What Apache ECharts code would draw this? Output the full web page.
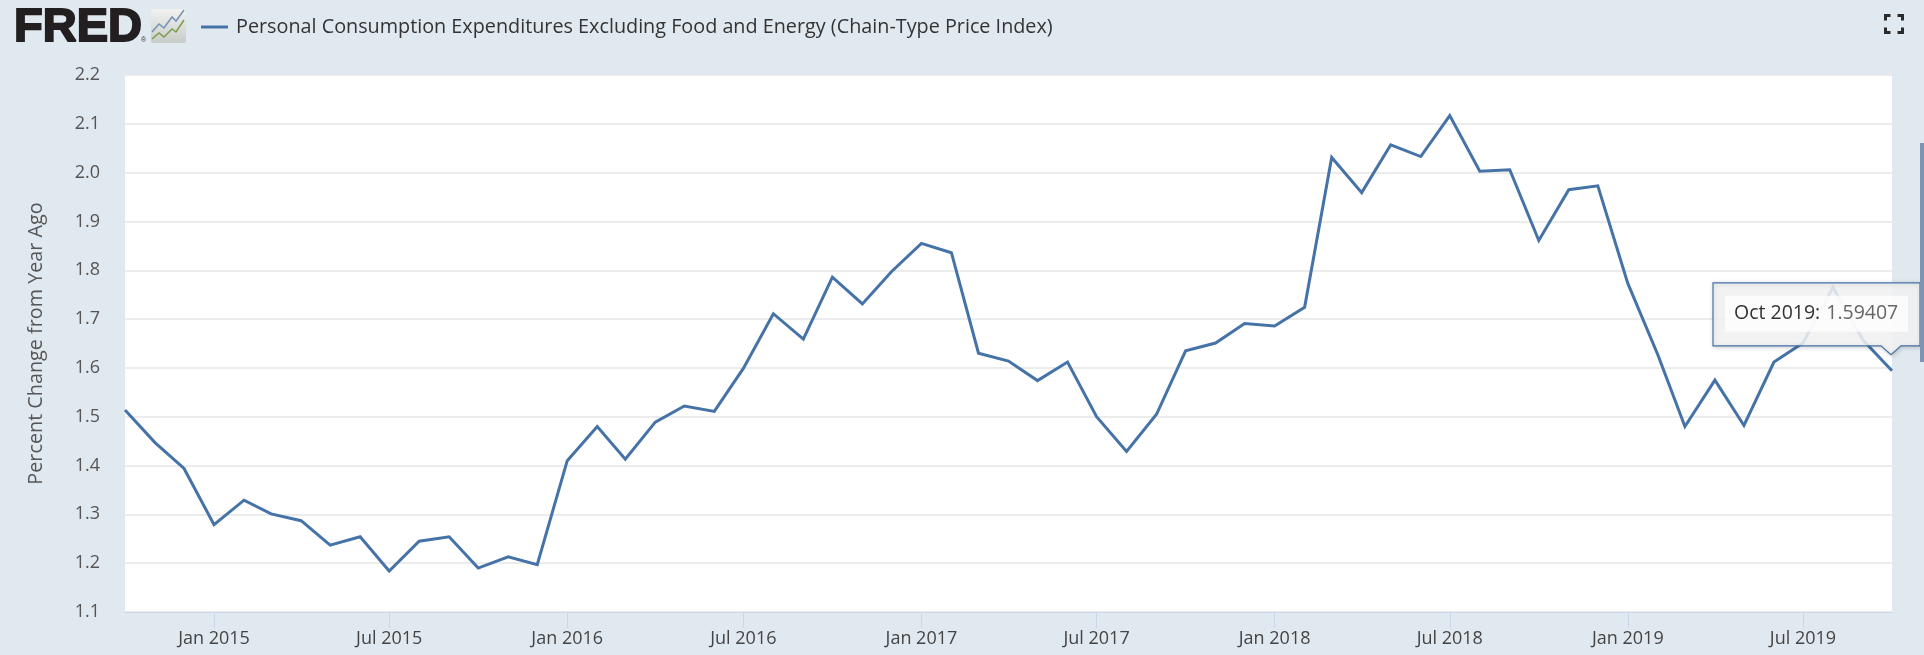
<!DOCTYPE html>
<html>
<head>
<meta charset="utf-8">
<style>html,body{margin:0;padding:0;background:#e1e9f0;overflow:hidden}#c{width:1924px;height:655px}</style>
<script src="https://cdn.jsdelivr.net/npm/echarts@6/dist/echarts.min.js"></script>
</head>
<body>
<div id="c"></div>
<script>
const seriesName = 'Personal Consumption Expenditures Excluding Food and Energy (Chain-Type Price Index)';
const yAxisTitle = 'Percent Change from Year Ago';
const months = [
 '2014-10-01','2014-11-01','2014-12-01',
 '2015-01-01','2015-02-01','2015-03-01','2015-04-01','2015-05-01','2015-06-01','2015-07-01','2015-08-01','2015-09-01','2015-10-01','2015-11-01','2015-12-01',
 '2016-01-01','2016-02-01','2016-03-01','2016-04-01','2016-05-01','2016-06-01','2016-07-01','2016-08-01','2016-09-01','2016-10-01','2016-11-01','2016-12-01',
 '2017-01-01','2017-02-01','2017-03-01','2017-04-01','2017-05-01','2017-06-01','2017-07-01','2017-08-01','2017-09-01','2017-10-01','2017-11-01','2017-12-01',
 '2018-01-01','2018-02-01','2018-03-01','2018-04-01','2018-05-01','2018-06-01','2018-07-01','2018-08-01','2018-09-01','2018-10-01','2018-11-01','2018-12-01',
 '2019-01-01','2019-02-01','2019-03-01','2019-04-01','2019-05-01','2019-06-01','2019-07-01','2019-08-01','2019-09-01','2019-10-01'];
const values = [
 1.514,1.447,1.394,
 1.279,1.329,1.301,1.287,1.237,1.254,1.184,1.245,1.254,1.190,1.213,1.197,
 1.410,1.480,1.413,1.489,1.522,1.511,1.599,1.711,1.659,1.786,1.731,1.797,
 1.855,1.836,1.630,1.614,1.574,1.612,1.500,1.429,1.505,1.635,1.651,1.691,
 1.686,1.724,2.031,1.959,2.057,2.033,2.117,2.003,2.006,1.861,1.965,1.973,
 1.773,1.627,1.480,1.575,1.482,1.612,1.651,1.765,1.657,1.59407];
const tickDates = ['2015-01-01','2015-07-01','2016-01-01','2016-07-01','2017-01-01','2017-07-01','2018-01-01','2018-07-01','2019-01-01','2019-07-01'];
const tickLabels = ['Jan 2015','Jul 2015','Jan 2016','Jul 2016','Jan 2017','Jul 2017','Jan 2018','Jul 2018','Jan 2019','Jul 2019'];
const tooltipDate = 'Oct 2019';

const ts = s => Date.parse(s + 'T00:00:00Z');
const tickTimes = tickDates.map(ts);
const font = '"Open Sans"';
const chart = echarts.init(document.getElementById('c'), null, {renderer: 'canvas'});
chart.setOption({
  animation: false,
  backgroundColor: '#e1e9f0',
  legend: {
    show: true, left: 196, top: 12, itemWidth: 27, itemHeight: 3, icon: 'rect',
    selectedMode: false,
    textStyle: {fontFamily: font, fontSize: 19.8, color: '#333', padding: [0,0,0,3]},
    data: [seriesName]
  },
  grid: {left: 125, right: 32, top: 75, height: 537, show: true, backgroundColor: '#fff', borderWidth: 0, containLabel: false},
  xAxis: {
    type: 'value', min: ts(months[0]), max: ts(months[months.length-1]),
    splitLine: {show: false},
    axisLine: {show: true, lineStyle: {color: '#ccd6eb', width: 1}},
    axisTick: {show: true, length: 16, lineStyle: {color: '#ccd6eb', width: 1}, customValues: tickTimes},
    axisLabel: {
      show: true, fontFamily: font, fontSize: 18, color: '#444', margin: 18,
      customValues: tickTimes, hideOverlap: false,
      formatter: v => { const i = tickTimes.indexOf(+v); return i >= 0 ? tickLabels[i] : ''; }
    }
  },
  yAxis: {
    type: 'value', min: 1.1, max: 2.2, interval: 0.1,
    name: yAxisTitle, nameLocation: 'middle', nameGap: 79,
    nameTextStyle: {fontFamily: font, fontSize: 19.8, color: '#555'},
    axisLine: {show: false}, axisTick: {show: false},
    splitLine: {show: true, lineStyle: {color: '#e6e6e6', width: 1.5}},
    axisLabel: {fontFamily: font, fontSize: 18, color: '#555', margin: 25, formatter: v => (+v).toFixed(1)}
  },
  series: [{
    name: seriesName, type: 'line', showSymbol: false, symbol: 'none',
    data: months.map((m, i) => [ts(m), values[i]]),
    lineStyle: {color: '#4572a7', width: 3, join: 'miter'},
    itemStyle: {color: '#4572a7'}, clip: false
  }]
});

// last data point drives the tooltip callout position
const last = chart.convertToPixel({gridIndex: 0}, [ts(months[months.length-1]), values[values.length-1]]);
const bx0 = last[0] - 179, bx1 = last[0] + 28, by0 = last[1] - 88, by1 = last[1] - 25;
const tipX = last[0] - 1, tipY = last[1] - 16;
const corner = (x0, y0, dx, dy) => ({
  type: 'polyline', shape: {points: [[x0, y0 + dy], [x0, y0], [x0 + dx, y0]]},
  style: {stroke: '#2b2b2b', lineWidth: 3, fill: 'none'}
});
chart.setOption({
  graphic: [
    // FRED wordmark
    {type: 'text', x: 14, y: 5, z: 10, style: {text: 'FRED', font: 'bold 47px "Liberation Sans"', fill: '#231f20', stroke: '#231f20', lineWidth: 2}},
    {type: 'text', x: 141, y: 37, z: 10, style: {text: '®', font: '7px "Liberation Sans"', fill: '#333'}},
    // logo icon
    {type: 'rect', shape: {x: 151, y: 9, width: 35, height: 34, r: 2}, z: 10,
      style: {fill: new echarts.graphic.LinearGradient(0, 0, 0, 1, [{offset: 0, color: '#f2f2f0'}, {offset: 1, color: '#c8ccc8'}])}},
    {type: 'polyline', z: 11, shape: {points: [[152,32],[159,24],[164,28],[172,17],[176,21],[184,10]]}, style: {stroke: '#6f94b6', lineWidth: 1.5, fill: 'none'}},
    {type: 'polyline', z: 11, shape: {points: [[152,39],[159,33],[164,37],[172,29],[176,32],[184,20]]}, style: {stroke: '#7d9c4a', lineWidth: 1.5, fill: 'none'}},
    // fullscreen icon
    Object.assign(corner(1885.5, 15.5, 5, 5), {z: 10}),
    Object.assign(corner(1902.5, 15.5, -5, 5), {z: 10}),
    Object.assign(corner(1885.5, 32.5, 5, -5), {z: 10}),
    Object.assign(corner(1902.5, 32.5, -5, -5), {z: 10}),
    // tooltip callout
    {type: 'polygon', z: 20,
      shape: {points: [[bx0,by0],[bx1,by0],[bx1,by1],[tipX+10,by1],[tipX,tipY],[tipX-10,by1],[bx0,by1]]},
      style: {fill: 'rgba(247,247,247,0.85)', stroke: '#4572a7', lineWidth: 1.2, shadowBlur: 4, shadowColor: 'rgba(0,0,0,0.2)', shadowOffsetX: 1, shadowOffsetY: 1}},
    {type: 'rect', z: 21, shape: {x: bx0 + 12, y: by0 + 13, width: 183, height: 36},
      style: {fill: 'rgba(255,255,255,0.75)'}},
    {type: 'text', z: 22, x: bx0 + 21, y: by0 + 31,
      style: {text: '{a|' + tooltipDate + ':}{b|' + values[values.length-1] + '}', verticalAlign: 'middle',
        rich: {a: {font: '500 19.5px "Open Sans"', fill: '#333'}, b: {font: '19.5px "Open Sans"', fill: '#666', padding: [0,0,0,6]}}}},
    // page scrollbar sliver
    {type: 'rect', z: 30, shape: {x: 1920, y: 143, width: 4, height: 219}, style: {fill: '#7f93b5'}}
  ]
});
</script>
</body>
</html>
